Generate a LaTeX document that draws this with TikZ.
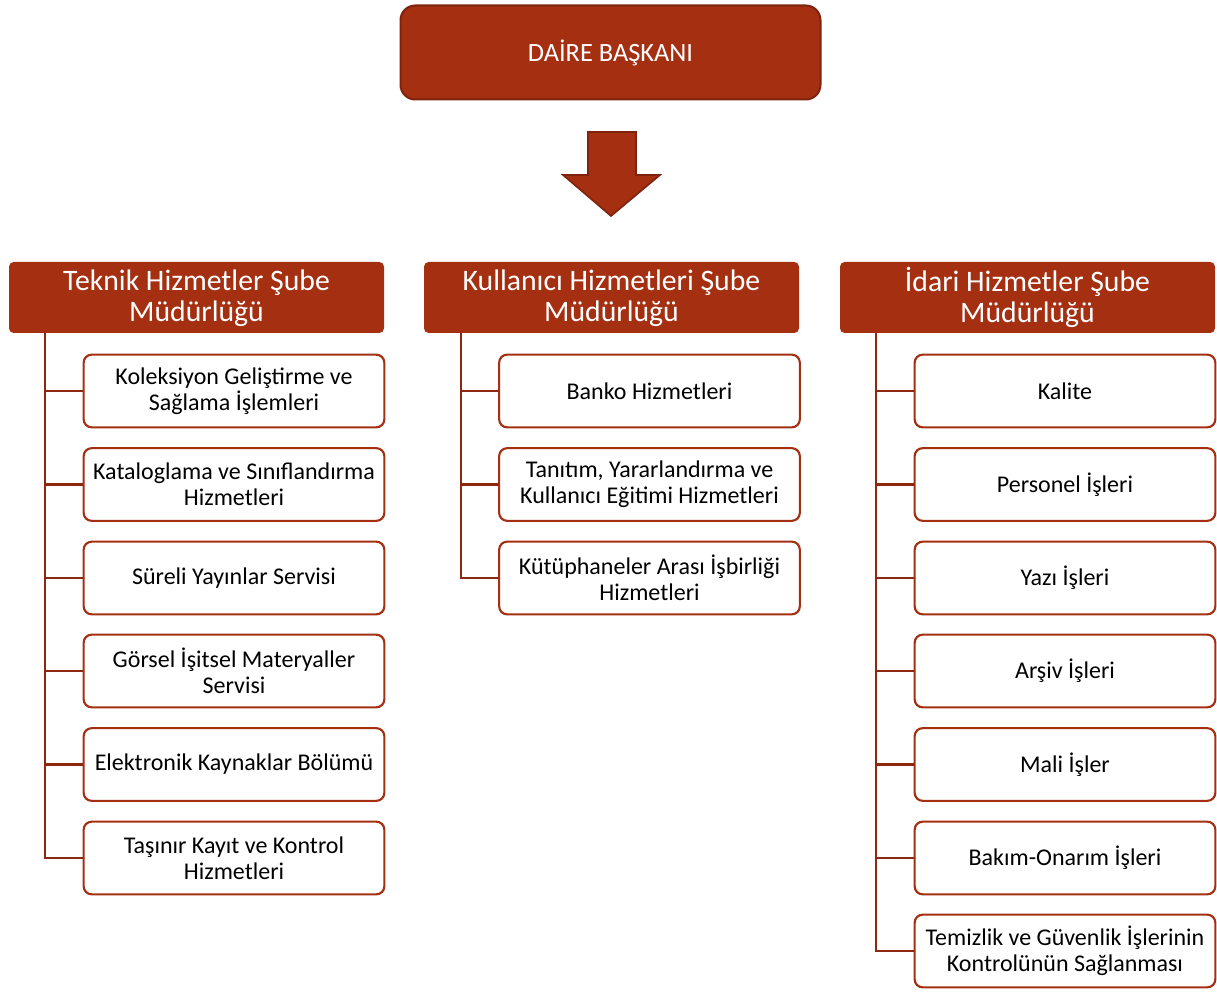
\documentclass[tikz,border=0pt]{standalone}
\usepackage{fontspec}
\setmainfont{Carlito}
\definecolor{brick}{RGB}{165,47,17}
\definecolor{brickdark}{RGB}{125,35,14}
\definecolor{lineclr}{RGB}{140,40,15}
\tikzset{
  topbox/.style={draw=brickdark, line width=1.5pt, fill=brick, rounded corners=11pt,
    minimum width=315pt, minimum height=70.5pt, text=white, font=\fontsize{19.8}{23}\selectfont, inner sep=0pt},
  hdrbox/.style={fill=brick, rounded corners=3.5pt, minimum width=281.25pt, minimum height=53.25pt,
    text=white, align=center, font=\fontsize{22.3}{23.3}\selectfont, inner sep=0pt},
  childbox/.style={draw=brick, line width=1.6pt, fill=white, rounded corners=6pt,
    minimum width=225.5pt, minimum height=54.5pt, align=center, font=\fontsize{18}{19.5}\selectfont, inner sep=0pt},
  conn/.style={draw=lineclr, line width=1.9pt}
}
\begin{document}
\begin{tikzpicture}[x=0.75pt,y=-0.75pt]
\useasboundingbox (0,0) rectangle (1217,998);
\node[topbox] (top) at (610.5,52.5) {DAİRE BAŞKANI};
% arrow
\draw[draw=brickdark, line width=1.2pt, fill=brick, line join=miter]
  (588,132) -- (636,132) -- (636,175) -- (660,175) -- (611,216) -- (563,175) -- (588,175) -- cycle;
\node[hdrbox] (h1) at (196.5,297.5) {\strut Teknik Hizmetler Şube\\Müdürlüğü};
\node[hdrbox] (h2) at (611.5,297.5) {\strut Kullanıcı Hizmetleri Şube\\Müdürlüğü};
\node[hdrbox] (h3) at (1027.5,297.5) {\strut İdari Hizmetler Şube\\Müdürlüğü};
% left column
\node[childbox] (a1) at (234,391) {Koleksiyon Geliştirme ve\\Sağlama İşlemleri};
\node[childbox] (a2) at (234,484.5) {Kataloglama ve Sınıflandırma\\Hizmetleri};
\node[childbox] (a3) at (234,578) {Süreli Yayınlar Servisi};
\node[childbox] (a4) at (234,671) {Görsel İşitsel Materyaller\\Servisi};
\node[childbox] (a5) at (234,764.5) {Elektronik Kaynaklar Bölümü};
\node[childbox] (a6) at (234,858) {Taşınır Kayıt ve Kontrol\\Hizmetleri};
% middle column
\node[childbox] (b1) at (649.5,391) {Banko Hizmetleri};
\node[childbox] (b2) at (649.5,484.5) {Tanıtım, Yararlandırma ve\\Kullanıcı Eğitimi Hizmetleri};
\node[childbox] (b3) at (649.5,578) {Kütüphaneler Arası İşbirliği\\Hizmetleri};
% right column
\node[childbox] (c1) at (1065,391) {Kalite};
\node[childbox] (c2) at (1065,484.5) {Personel İşleri};
\node[childbox] (c3) at (1065,578) {Yazı İşleri};
\node[childbox] (c4) at (1065,671) {Arşiv İşleri};
\node[childbox] (c5) at (1065,764.5) {Mali İşler};
\node[childbox] (c6) at (1065,858) {Bakım-Onarım İşleri};
\node[childbox] (c7) at (1065,951) {Temizlik ve Güvenlik İşlerinin\\Kontrolünün Sağlanması};
% trunks
\coordinate (t1) at (45,333);
\coordinate (t2) at (461,333);
\coordinate (t3) at (876,333);
\draw[conn] (t1) |- (a6.west);
\foreach \n in {a1,a2,a3,a4,a5} \draw[conn] (t1 |- \n.west) -- (\n.west);
\draw[conn] (t2) |- (b3.west);
\foreach \n in {b1,b2} \draw[conn] (t2 |- \n.west) -- (\n.west);
\draw[conn] (t3) |- (c7.west);
\foreach \n in {c1,c2,c3,c4,c5,c6} \draw[conn] (t3 |- \n.west) -- (\n.west);
\end{tikzpicture}
\end{document}
